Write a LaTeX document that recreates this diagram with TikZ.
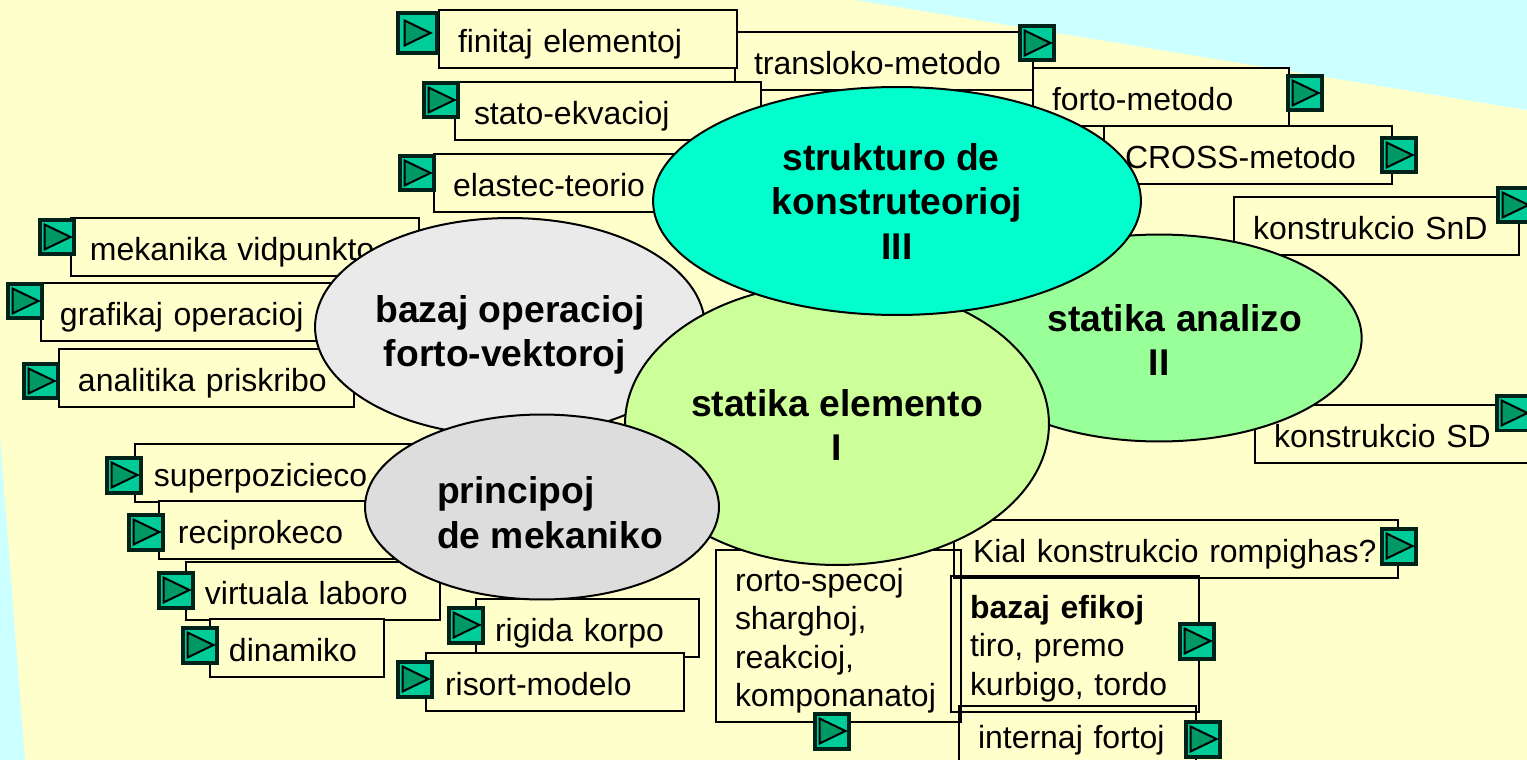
\documentclass[tikz,border=0pt]{standalone}
\usepackage{fontspec}
\setmainfont{Liberation Sans}
\usetikzlibrary{shapes,positioning}
\definecolor{fono}{HTML}{FFFFCC}
\definecolor{angulo}{HTML}{CCFFFF}
\definecolor{butono}{HTML}{00CC99}
\definecolor{triangulo}{HTML}{009966}
\definecolor{rando}{HTML}{002218}
\definecolor{elbazaj}{HTML}{EAEAEA}
\definecolor{elanalizo}{HTML}{99FF99}
\definecolor{elelemento}{HTML}{CCFF99}
\definecolor{elstrukturo}{HTML}{00FFCC}
\definecolor{elprincipoj}{HTML}{DDDDDD}

\begin{document}
\begin{tikzpicture}[x=0.02cm,y=-0.02cm]
\tikzstyle{kesto} = [rectangle, draw=black, line width=0.04cm, fill=fono, anchor=north west, outer sep=0pt, inner xsep=0.38cm, inner ysep=0pt, minimum height=1.16cm, minimum width=#1*0.02cm, text width=#1*0.02cm-0.76cm, align=left, font=\fontsize{18.2}{21.8}\selectfont];%
\tikzstyle{unulinia} = [text height=0.68cm, text depth=0.14cm];%
\tikzstyle{elipso} = [ellipse, draw=black, line width=0.04cm, inner sep=0pt, align=center, font=\fontsize{21.2}{25.2}\selectfont\bfseries];%
\tikzstyle{butonojn} = [rectangle, draw=rando, line width=0.08cm, fill=butono, inner sep=0pt, minimum width=0.68cm, minimum height=0.7cm, path picture={
  \draw[triangulo, line width=0.08cm] (path picture bounding box.south west) -- (path picture bounding box.north west) -- (path picture bounding box.north east);
  \draw[black, line width=0.04cm, fill=triangulo] ([xshift=-0.25cm,yshift=0.25cm]path picture bounding box.center) -- ([xshift=0.27cm]path picture bounding box.center) -- ([xshift=-0.25cm,yshift=-0.25cm]path picture bounding box.center) -- cycle;
}];%

\fill[fono] (0,0) rectangle (1527,760);
\fill[angulo] (855,0) -- (1527,110) -- (1527,0) -- cycle;
\fill[angulo] (0,437) -- (25,760) -- (0,760) -- cycle;
\useasboundingbox (0,0) rectangle (1527,760);

\node at (735,32) [kesto=298,unulinia] (transloko) {transloko-metodo};
\node at (439,10) [kesto=298,unulinia] (finitaj) {finitaj elementoj};
\node at (455,82) [kesto=306,unulinia] (stato) {stato-ekvacioj};
\node at (434,154) [kesto=260,unulinia] (elastec) {elastec-teorio};
\node at (1033,68) [kesto=256,unulinia] (forto) {forto-metodo};
\node at (1104,126) [kesto=288,unulinia] (cross) {\hspace*{0.04cm}CROSS-metodo};
\node at (1234,197) [kesto=285,unulinia] (snd) {konstrukcio SnD};
\node at (1255,405) [kesto=285,unulinia] (sd) {konstrukcio SD};
\node at (71,218) [kesto=348,unulinia] (mekanika) {mekanika vidpunkto};
\node at (41,283) [kesto=310,unulinia] (grafikaj) {grafikaj operacioj};
\node at (59,349) [kesto=295,unulinia] (analitika) {analitika priskribo};
\node at (135,444) [kesto=295,unulinia] (superpozicieco) {superpozicieco};
\node at (159,501) [kesto=245,unulinia] (reciprokeco) {reciprokeco};
\node at (186,562) [kesto=254,unulinia] (virtuala) {virtuala laboro};
\node at (210,619) [kesto=174,unulinia] (dinamiko) {dinamiko};
\node at (476,599) [kesto=223,unulinia] (rigida) {rigida korpo};
\node at (426,653) [kesto=258,unulinia] (risort) {risort-modelo};
\node at (954,520) [kesto=444,unulinia] (kial) {Kial konstrukcio rompighas?};
\node at (716,550) [kesto=245, fill=none, minimum height=3.44cm] (rorto) {\rule{0pt}{0.65cm}rorto-specoj\\sharghoj,\\reakcioj,\\komponanatoj};
\node at (951,576) [kesto=248, fill=none, minimum height=2.72cm] (efikoj) {\rule{0pt}{0.65cm}\textbf{bazaj efikoj}\\tiro, premo\\kurbigo, tordo};
\node at (959,706) [kesto=237,unulinia,fill=none] (internaj) {internaj fortoj};

% elipsoj
\node at (510,327) [elipso, fill=elbazaj, minimum width=7.8cm, minimum height=4.36cm] (bazaj) {\rule{0pt}{0.86cm}bazaj operacioj\\forto-vektoroj\hspace*{0.2cm}};
\node at (1159,338) [elipso, fill=elanalizo, minimum width=8.08cm, minimum height=4.14cm] (analizo) {\rule{0pt}{0.62cm}\hspace*{0.64cm}statika analizo\\II};
\node at (837,424) [elipso, fill=elelemento, minimum width=8.48cm, minimum height=5.64cm] (elemento) {\rule{0pt}{0.58cm}statika elemento\\I};
\node at (897,201) [elipso, fill=elstrukturo, minimum width=9.76cm, minimum height=4.56cm] (strukturo) {\rule{0pt}{0.56cm}strukturo de\hspace*{0.24cm}\\konstruteorioj\\III};
\node at (542,507) [elipso, fill=elprincipoj, align=left, minimum width=7.08cm, minimum height=3.7cm] (principoj) {\rule{0pt}{0.77cm}\hspace*{0.32cm}principoj\\\hspace*{0.32cm}de mekaniko};

% butonoj
\node at (417,33) [butonojn, minimum width=0.78cm, minimum height=0.82cm] (bfinitaj) {};
\node at (1037,43) [butonojn] (btransloko) {};
\node at (441,100) [butonojn] (bstato) {};
\node at (417,173) [butonojn] (belastec) {};
\node at (1305,93) [butonojn] (bforto) {};
\node at (1399,155) [butonojn] (bcross) {};
\node at (1515,205) [butonojn] (bsnd) {};
\node at (1514,413) [butonojn] (bsd) {};
\node at (57,237) [butonojn] (bmekanika) {};
\node at (25,301) [butonojn] (bgrafikaj) {};
\node at (41,381) [butonojn] (banalitika) {};
\node at (124,475) [butonojn] (bsuperpozicieco) {};
\node at (146,532) [butonojn] (breciprokeco) {};
\node at (176,590) [butonojn] (bvirtuala) {};
\node at (200,645) [butonojn] (bdinamiko) {};
\node at (466,625) [butonojn] (brigida) {};
\node at (415,679) [butonojn] (brisort) {};
\node at (832,731) [butonojn] (brorto) {};
\node at (1197,641) [butonojn] (befikoj) {};
\node at (1203,739) [butonojn] (binternaj) {};
\node at (1399,546) [butonojn] (bkial) {};

\end{tikzpicture}
\end{document}
